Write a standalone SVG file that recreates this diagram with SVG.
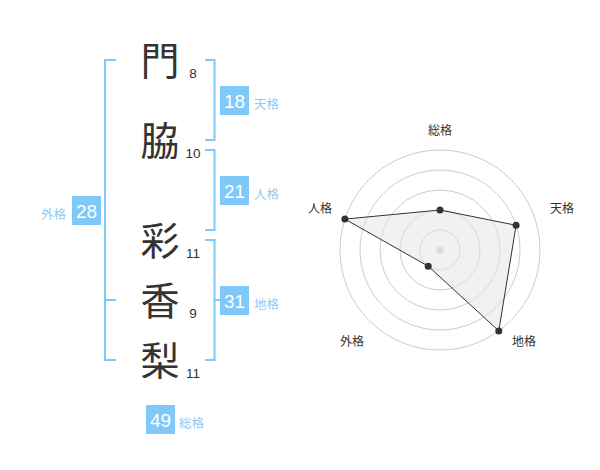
<svg xmlns="http://www.w3.org/2000/svg" width="600" height="470" viewBox="0 0 600 470">
<style>
.kanji{font-family:"Noto Sans CJK JP","Noto Sans CJK SC",sans-serif;font-size:39px;fill:#333;text-anchor:middle}
.num{font-family:"Liberation Sans",Arial,sans-serif;font-size:13.5px;fill:#333;text-anchor:middle}
.br{fill:none;stroke:#80c8f8;stroke-width:2}
.box{fill:#80c8f8}
.bnum{font-family:"Liberation Sans",Arial,sans-serif;font-size:19px;fill:#fff;text-anchor:middle}
.lab{font-family:"Noto Sans CJK JP","Noto Sans CJK SC",sans-serif;font-size:12.5px;fill:#8ccbf5}
.ring{fill:none;stroke:#cccccc;stroke-width:1}
.rlab{font-family:"Noto Sans CJK JP","Noto Sans CJK SC",sans-serif;font-size:12px;fill:#333;text-anchor:middle}
.pt{fill:#333}
</style>
<rect width="600" height="470" fill="#fff"/>

<g id="connectors">
  <path id="br-gaikaku" class="br" d="M116,60 H105 V360 H116 M105,300 H116"/>
  <path id="br-tenkaku" class="br" d="M205,60 H214.5 V140 H205"/>
  <path id="br-jinkaku" class="br" d="M205,150 H214.5 V230 H205"/>
  <path id="br-chikaku" class="br" d="M205,240 H214.5 V360 H205 M214.5,300 H220"/>
</g>

<g id="char-1"><text class="kanji" x="160" y="75">門</text><text class="num" x="193" y="78">8</text></g>
<g id="char-2"><text class="kanji" x="160" y="155">脇</text><text class="num" x="193" y="158">10</text></g>
<g id="char-3"><text class="kanji" x="160" y="255">彩</text><text class="num" x="193" y="258">11</text></g>
<g id="char-4"><text class="kanji" x="160" y="315">香</text><text class="num" x="193" y="318">9</text></g>
<g id="char-5"><text class="kanji" x="160" y="375">梨</text><text class="num" x="193" y="378">11</text></g>

<g id="tenkaku"><rect class="box" x="220" y="86" width="29" height="29"/><text class="bnum" x="234.5" y="107.5">18</text><text class="lab" x="254" y="109">天格</text></g>
<g id="jinkaku"><rect class="box" x="220" y="176" width="29" height="29"/><text class="bnum" x="234.5" y="197.5">21</text><text class="lab" x="254" y="199">人格</text></g>
<g id="chikaku"><rect class="box" x="220" y="286" width="29" height="29"/><text class="bnum" x="234.5" y="307.5">31</text><text class="lab" x="254" y="309">地格</text></g>
<g id="gaikaku"><rect class="box" x="72" y="196" width="29" height="29"/><text class="bnum" x="86.5" y="217.5">28</text><text class="lab" x="66" y="219" text-anchor="end">外格</text></g>
<g id="soukaku"><rect class="box" x="146" y="405" width="29" height="29"/><text class="bnum" x="160.5" y="426.5">49</text><text class="lab" x="179" y="428">総格</text></g>

<g id="radar">
  <circle class="ring" cx="440" cy="250" r="20"/>
  <circle class="ring" cx="440" cy="250" r="40"/>
  <circle class="ring" cx="440" cy="250" r="60"/>
  <circle class="ring" cx="440" cy="250" r="80"/>
  <circle class="ring" cx="440" cy="250" r="100"/>
  <circle cx="440" cy="250" r="3.5" fill="#cccccc"/>
  <polygon points="440,210 516.09,225.28 498.78,330.9 428.24,266.18 344.89,219.1" fill="#e6e6e6" fill-opacity="0.55" stroke="#333" stroke-width="1"/>
  <circle class="pt" cx="440" cy="210" r="3.5"/>
  <circle class="pt" cx="516.09" cy="225.28" r="3.5"/>
  <circle class="pt" cx="498.78" cy="330.9" r="3.5"/>
  <circle class="pt" cx="428.24" cy="266.18" r="3.5"/>
  <circle class="pt" cx="344.89" cy="219.1" r="3.5"/>
  <text class="rlab" x="440" y="135">総格</text>
  <text class="rlab" x="562" y="213">天格</text>
  <text class="rlab" x="524" y="346">地格</text>
  <text class="rlab" x="352" y="346">外格</text>
  <text class="rlab" x="320" y="213">人格</text>
</g>
</svg>
